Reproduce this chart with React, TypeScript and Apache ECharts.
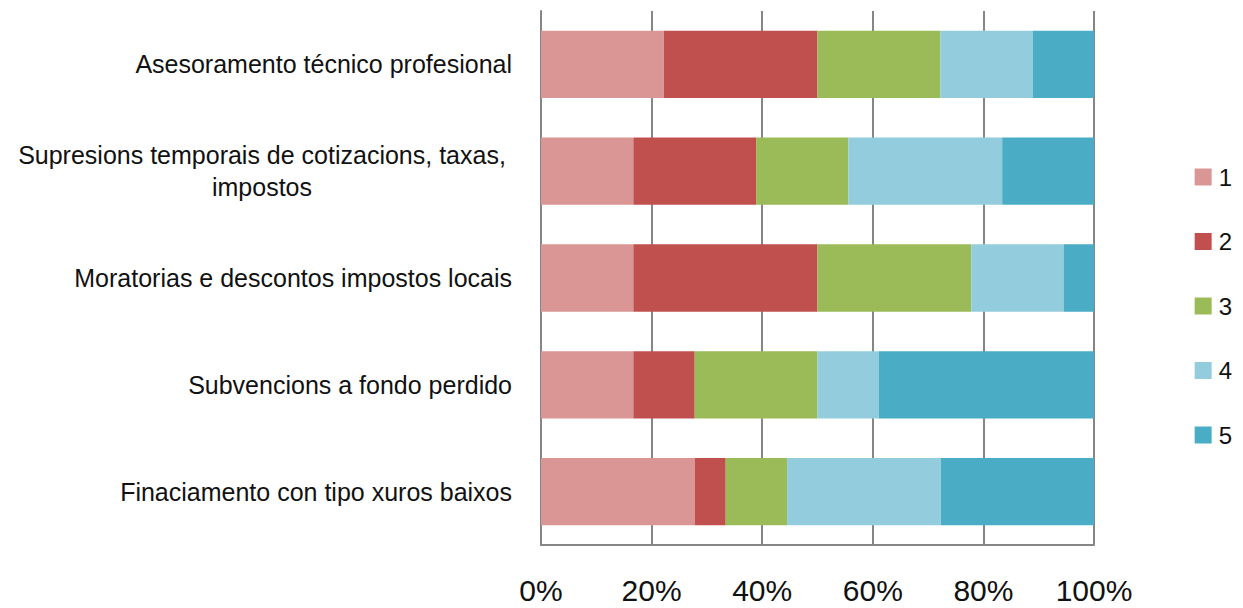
import React, { useEffect, useRef } from "react";
import * as echarts from "echarts";

const categories = [
  "Asesoramento técnico profesional",
  "Supresions temporais de cotizacions, taxas,\nimpostos",
  "Moratorias e descontos impostos locais",
  "Subvencions a fondo perdido",
  "Finaciamento con tipo xuros baixos",
];
const seriesNames = ["1", "2", "3", "4", "5"];
const s1 = [22.2, 16.7, 16.7, 16.7, 27.8];
const s2 = [27.8, 22.2, 33.3, 11.1, 5.6];
const s3 = [22.2, 16.7, 27.8, 22.2, 11.1];
const s4 = [16.7, 27.8, 16.7, 11.1, 27.8];
const s5 = [11.1, 16.7, 5.6, 38.9, 27.8];
const xTicks = [0, 20, 40, 60, 80, 100];
const colors = ["#D99694", "#C0504D", "#9BBB59", "#93CDDD", "#4BACC6"];

export default function App() {
  const ref = useRef<HTMLDivElement>(null);
  useEffect(() => {
    const chart = echarts.init(ref.current!, undefined, { renderer: "svg" });
    const all = [s1, s2, s3, s4, s5];
    const font = "'Liberation Sans', Arial, sans-serif";
    chart.setOption({
      animation: false,
      color: colors,
      grid: { left: 541, right: 149, top: 11, bottom: 63, containLabel: false },
      legend: {
        orient: "vertical",
        right: 6,
        top: 160,
        itemWidth: 17,
        itemHeight: 17,
        itemGap: 40.5,
        icon: "rect",
        textStyle: { fontSize: 24, color: "#111", fontFamily: font, padding: [0, 0, 0, 2] },
        data: seriesNames,
      },
      xAxis: {
        type: "value",
        min: xTicks[0],
        max: xTicks[xTicks.length - 1],
        interval: 20,
        axisLine: { show: true, lineStyle: { color: "#868686", width: 2 } },
        axisTick: { show: false },
        splitLine: { show: true, lineStyle: { color: "#868686", width: 2 } },
        axisLabel: {
          formatter: (v: number) => v + "%",
          fontSize: 30,
          color: "#111",
          fontFamily: font,
          margin: 30,
        },
      },
      yAxis: {
        type: "category",
        inverse: true,
        data: categories,
        axisLine: { show: true, lineStyle: { color: "#868686", width: 2 } },
        axisTick: { show: false },
        axisLabel: {
          fontSize: 25,
          color: "#111",
          fontFamily: font,
          margin: 29,
          lineHeight: 32,
          formatter: (v: string) => {
            if (v.includes("\n")) {
              const parts = v.split("\n");
              return parts.map((p) => `{c|${p}}`).join("\n");
            }
            return v;
          },
          rich: {
            c: { width: 500, align: "center", fontSize: 25, fontFamily: font, color: "#111", lineHeight: 32 },
          },
        },
      },
      series: seriesNames.map((n, i) => ({
        name: n,
        type: "bar",
        stack: "total",
        data: all[i],
        barCategoryGap: "37%",
        itemStyle: { color: colors[i] },
      })),
    });
    return () => chart.dispose();
  }, []);
  return <div ref={ref} style={{ width: 1243, height: 608, marginLeft: -8, marginTop: -8 }} />;
}
